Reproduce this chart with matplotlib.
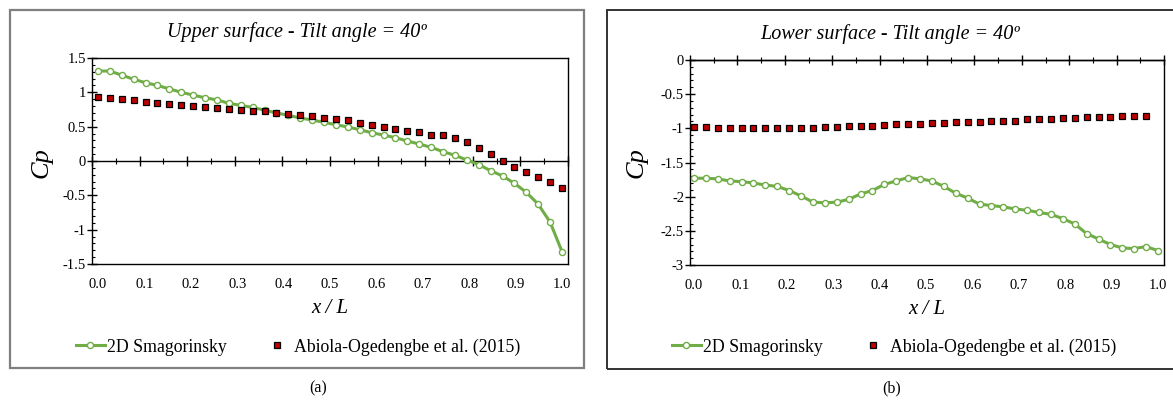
import numpy as np
import matplotlib
matplotlib.use('Agg')
import matplotlib.pyplot as plt
from matplotlib.patches import Rectangle
from matplotlib.lines import Line2D

plt.rcParams['font.family'] = ['Liberation Serif', 'DejaVu Serif']

# Datos (40 puntos a lo largo de x/L)
n_pts = 40
x_les = np.arange(n_pts) / (n_pts - 1)
x_exp_low = np.arange(n_pts - 1) / (n_pts - 1)

cp_upper_les = [1.31, 1.31, 1.25, 1.19, 1.14, 1.10, 1.05, 1.00, 0.96, 0.92,
                0.89, 0.84, 0.81, 0.78, 0.74, 0.70, 0.665, 0.626, 0.597, 0.563,
                0.529, 0.495, 0.456, 0.412, 0.378, 0.339, 0.291, 0.247, 0.199, 0.136,
                0.083, 0.015, -0.053, -0.141, -0.218, -0.325, -0.456, -0.63, -0.89, -1.32]
cp_upper_exp = [0.936, 0.917, 0.898, 0.888, 0.863, 0.844, 0.830, 0.815, 0.80, 0.786,
                0.771, 0.757, 0.742, 0.728, 0.728, 0.703, 0.684, 0.674, 0.66, 0.63,
                0.611, 0.592, 0.553, 0.529, 0.495, 0.47, 0.441, 0.418, 0.383, 0.378,
                0.339, 0.281, 0.185, 0.102, 0.0, -0.083, -0.16, -0.228, -0.306, -0.388]

cp_lower_les = [-1.73, -1.73, -1.74, -1.77, -1.78, -1.80, -1.83, -1.85, -1.91, -1.99,
                -2.08, -2.09, -2.08, -2.04, -1.96, -1.91, -1.82, -1.77, -1.72, -1.74,
                -1.77, -1.85, -1.95, -2.02, -2.11, -2.13, -2.15, -2.18, -2.20, -2.23,
                -2.26, -2.32, -2.40, -2.54, -2.62, -2.70, -2.75, -2.76, -2.73, -2.79]
cp_lower_exp = [-0.98, -0.98, -0.99, -0.99, -0.99, -0.99, -0.99, -0.99, -0.99, -0.99,
                -0.99, -0.98, -0.98, -0.97, -0.97, -0.96, -0.95, -0.94, -0.93, -0.93,
                -0.92, -0.92, -0.91, -0.91, -0.90, -0.89, -0.89, -0.89, -0.87, -0.86,
                -0.86, -0.85, -0.85, -0.84, -0.84, -0.84, -0.82, -0.82, -0.82]

xtick_labels = ['0.0', '0.1', '0.2', '0.3', '0.4', '0.5', '0.6', '0.7', '0.8', '0.9', '1.0']
les_label = '2D Smagorinsky'
exp_label = 'Abiola-Ogedengbe et al. (2015)'

green = '#70AD47'
red = '#C00000'

W, H = 1173, 401
fig = plt.figure(figsize=(W / 100, H / 100), dpi=100)


def px_rect(x0, y0, x1, y1):
    return [x0 / W, 1 - y1 / H, (x1 - x0) / W, (y1 - y0) / H]


def make_panel(rect, xlim, ylim, yticks, axis_loc, x_exp, les, exp, cp_x):
    ax = fig.add_axes(rect)
    ax.plot(x_les, les, color=green, lw=2.2, marker='o', ms=4.4,
            mfc='white', mec=green, mew=1.0, zorder=3)
    ax.plot(x_exp, exp, ls='none', marker='s', ms=4.6, mfc=red, mec='black',
            mew=0.9, zorder=4)
    ax.set_xlim(*xlim)
    ax.set_ylim(*ylim)
    for s in ax.spines.values():
        s.set_color('black')
        s.set_linewidth(1.0)

    # etiquetas del eje x abajo, sin marcas
    ax.set_xticks(np.arange(11) / 10)
    ax.set_xticklabels(xtick_labels)
    ax.tick_params(axis='x', length=0, pad=10, labelsize=10.5)

    # eje y con marcas cruzadas
    ax.set_yticks(yticks)
    ax.set_yticklabels([('%g' % v) for v in yticks])
    ax.set_yticks(np.arange(ylim[0], ylim[1] + 0.01, 0.1), minor=True)
    ax.tick_params(axis='y', which='major', direction='inout', length=6.5,
                   width=1.0, pad=1, labelsize=10.5)
    ax.tick_params(axis='y', which='minor', direction='in', length=2.5, width=0.8)

    # eje x cruzado (en y=0)
    sec = ax.secondary_xaxis(axis_loc)
    sec.set_xticks(np.linspace(xlim[0], xlim[1], 11))
    sec.set_xticks(np.linspace(xlim[0], xlim[1], 21), minor=True)
    sec.tick_params(which='major', direction='inout', length=6.5, width=1.0,
                    labelbottom=False, labeltop=False)
    sec.tick_params(which='minor', direction='inout', length=4.5, width=0.8,
                    labelbottom=False, labeltop=False)
    sec.spines['bottom'].set_linewidth(1.0)
    sec.spines['top'].set_linewidth(1.0)

    ax.set_xlabel('x / L', fontsize=15, style='italic', labelpad=6)
    fig.text(cp_x / W, 1 - 163 / H, 'Cp', rotation=90, fontsize=19,
             style='italic', ha='center', va='center')
    return ax


ax1 = make_panel(px_rect(92, 58, 568, 264), (-0.0129, 1.0129), (-1.5, 1.5),
                 [-1.5, -1, -0.5, 0, 0.5, 1, 1.5], 0.5, x_les,
                 cp_upper_les, cp_upper_exp, 42)
ax2 = make_panel(px_rect(690, 60, 1164, 265), (-0.0086, 1.0129), (-3, 0),
                 [-3, -2.5, -2, -1.5, -1, -0.5, 0], 'top', x_exp_low,
                 cp_lower_les, cp_lower_exp, 637)

# titulos
fig.text(297 / W, 1 - 32 / H, 'Upper surface - Tilt angle = 40º', style='italic',
         fontsize=14.5, ha='center', va='center')
fig.text(890 / W, 1 - 34 / H, 'Lower surface - Tilt angle = 40º', style='italic',
         fontsize=14.5, ha='center', va='center')

# marcos exteriores
fig.patches.append(Rectangle((9.5 / W, 1 - 367.5 / H), (584 - 9.5) / W, (367.5 - 9.5) / H,
                             transform=fig.transFigure, fill=False, ec='#7f7f7f', lw=1.6))
fig.patches.append(Rectangle((607 / W, 1 - 369 / H), (1180 - 607) / W, (369 - 10) / H,
                             transform=fig.transFigure, fill=False, ec='#333333', lw=1.4))

# leyendas
handles = [Line2D([], [], color=green, lw=2.2, marker='o', ms=4.4, mfc='white',
                  mec=green, mew=1.0),
           Line2D([], [], ls='none', marker='s', ms=4.6, mfc=red, mec='black', mew=0.9)]
for cx, cy in [(298, 347), (894, 347)]:
    fig.legend(handles, [les_label, exp_label], loc='center',
               bbox_to_anchor=(cx / W, 1 - cy / H), ncol=2, frameon=False,
               fontsize=12.8, handlelength=1.6, handletextpad=0.15, columnspacing=2.0)

fig.text(318 / W, 1 - 388 / H, '(a)', fontsize=11.5, ha='center', va='center')
fig.text(892 / W, 1 - 388 / H, '(b)', fontsize=11.5, ha='center', va='center')

fig.savefig('out.png', dpi=100)
